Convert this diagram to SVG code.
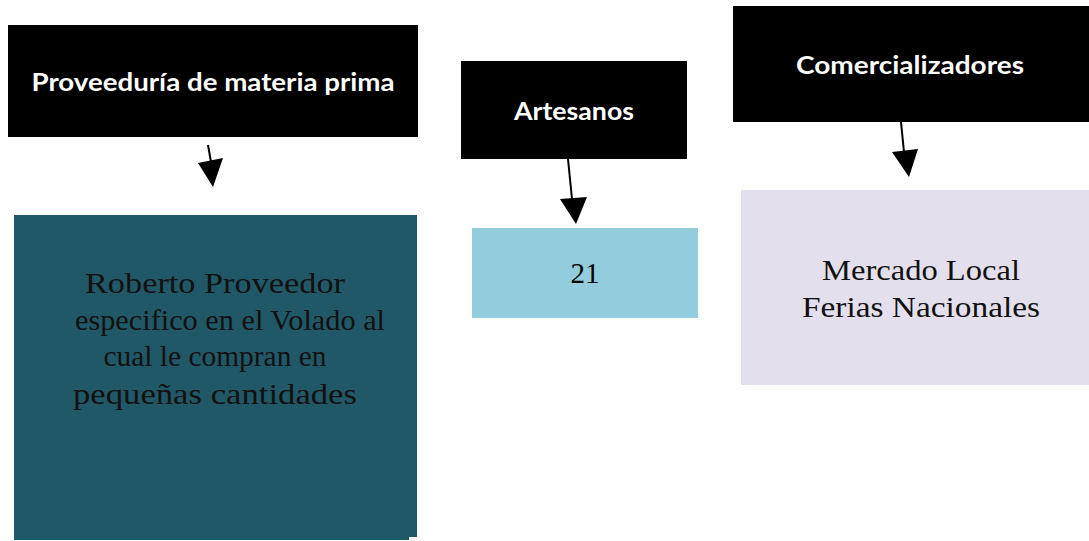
<svg xmlns="http://www.w3.org/2000/svg" width="1089" height="541" viewBox="0 0 1089 541">
<style>
.hdr{fill:#000}
.ht{fill:#fff;font-family:Lato,"Open Sans","Liberation Sans",sans-serif;font-weight:bold;font-size:24px;text-anchor:middle}
.bt{font-family:"Liberation Serif","DejaVu Serif",serif;font-size:29px;text-anchor:middle}
.conn line{stroke:#000;stroke-width:2}
.conn polygon{fill:#000}
</style>
<rect width="1089" height="541" fill="#fff"/>
<g id="n1">
<rect class="hdr" x="8" y="25" width="410" height="112"/>
<text class="ht" x="213" y="91" textLength="363" lengthAdjust="spacingAndGlyphs">Proveeduría de materia prima</text>
</g>
<g id="n2">
<rect class="hdr" x="461" y="61" width="226" height="98"/>
<text class="ht" x="574" y="120" textLength="120" lengthAdjust="spacingAndGlyphs">Artesanos</text>
</g>
<g id="n3">
<rect class="hdr" x="733" y="6" width="356" height="116"/>
<text class="ht" x="910" y="74" textLength="228" lengthAdjust="spacingAndGlyphs">Comercializadores</text>
</g>
<g id="n4">
<rect x="14" y="215" width="403" height="322" fill="#215867"/>
<rect x="14" y="530" width="395" height="10" fill="#215867"/>
<text class="bt" fill="#111" x="215" y="293" textLength="260" lengthAdjust="spacingAndGlyphs">Roberto Proveedor</text>
<text class="bt" fill="#111" x="230" y="330" textLength="310" lengthAdjust="spacingAndGlyphs">especifico en el Volado al</text>
<text class="bt" fill="#111" x="215" y="366" textLength="223" lengthAdjust="spacingAndGlyphs">cual le compran en</text>
<text class="bt" fill="#111" x="215" y="404" textLength="284" lengthAdjust="spacingAndGlyphs">pequeñas cantidades</text>
</g>
<g id="n5">
<rect x="472" y="228" width="226" height="90" fill="#93cddd"/>
<text class="bt" fill="#000" x="585" y="283">21</text>
</g>
<g id="n6">
<rect x="741" y="190" width="348" height="195" fill="#e4dfec"/>
<text class="bt" fill="#111" x="921" y="280" textLength="198" lengthAdjust="spacingAndGlyphs">Mercado Local</text>
<text class="bt" fill="#111" x="921" y="317" textLength="238" lengthAdjust="spacingAndGlyphs">Ferias Nacionales</text>
</g>
<g id="connectors" class="conn">
<line x1="208" y1="145" x2="211" y2="162"/>
<polygon points="198,163 223,158 213,187"/>
<line x1="568" y1="159" x2="572" y2="199"/>
<polygon points="560,199 587,197 576,224"/>
<line x1="901" y1="122" x2="904" y2="152"/>
<polygon points="892,152 918,149 909,177"/>
</g>
</svg>
